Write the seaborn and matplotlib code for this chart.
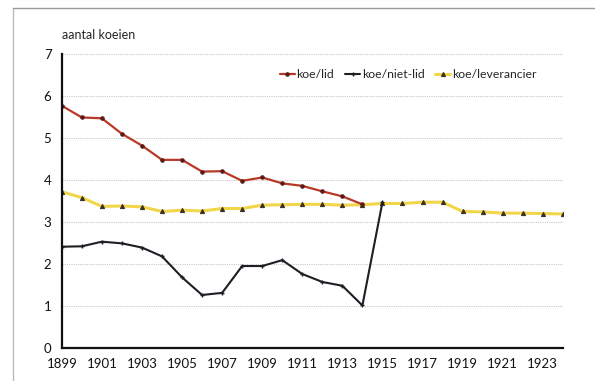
import numpy as np
import pandas as pd
import matplotlib
matplotlib.use("Agg")
import matplotlib.pyplot as plt
import matplotlib.ticker as ticker
import seaborn as sns

jaren = list(range(1899, 1925))
koe_lid = [5.77, 5.49, 5.47, 5.10, 4.82, 4.48, 4.48, 4.20, 4.21, 3.98, 4.06, 3.92, 3.86, 3.73, 3.61, 3.42]
koe_niet_lid = [2.41, 2.42, 2.53, 2.49, 2.39, 2.18, 1.68, 1.26, 1.31, 1.95, 1.95, 2.09, 1.76, 1.57, 1.48, 1.01, 3.47]
koe_leverancier = [3.72, 3.58, 3.37, 3.38, 3.36, 3.25, 3.28, 3.26, 3.32, 3.32, 3.40, 3.41, 3.42, 3.42, 3.40, 3.41,
                   3.44, 3.44, 3.47, 3.47, 3.25, 3.24, 3.21, 3.21, 3.20, 3.19]
tick_jaren = list(range(1899, 1925, 2))

sns.set_style("white")
plt.rcParams['font.family'] = ['Lato', 'DejaVu Sans']

fig = plt.figure(figsize=(6, 3.81), dpi=100)
ax = fig.add_axes([0.103, 0.087, 0.835, 0.771])

# rand van de afbeelding
fig.add_artist(plt.Line2D([0.022, 0.022], [0, 0.98], color="#bbbbbb", lw=1, transform=fig.transFigure))
fig.add_artist(plt.Line2D([0.022, 0.99], [0.98, 0.98], color="#999999", lw=1, transform=fig.transFigure))

sns.lineplot(x=jaren[:len(koe_lid)], y=koe_lid, ax=ax, color="#b83a26", lw=1.6,
             marker="o", markersize=2.5, markerfacecolor="#5a1a1a", markeredgecolor="#5a1a1a",
             label="koe/lid")
sns.lineplot(x=jaren[:len(koe_niet_lid)], y=koe_niet_lid, ax=ax, color="#1e1e24", lw=1.5,
             marker="+", markersize=3, markeredgewidth=1, markeredgecolor="#1e1e24",
             label="koe/niet-lid")
sns.lineplot(x=jaren[:len(koe_leverancier)], y=koe_leverancier, ax=ax, color="#f2d64a", lw=2.2,
             marker="^", markersize=3, markerfacecolor="#3a3020", markeredgecolor="#3a3020",
             label="koe/leverancier", zorder=1)

ax.set_xlim(1899, 1924)
ax.set_ylim(0, 7)
ax.xaxis.set_major_locator(ticker.FixedLocator(tick_jaren))
ax.xaxis.set_minor_locator(ticker.MultipleLocator(1))
ax.yaxis.set_major_locator(ticker.MultipleLocator(1))
ax.yaxis.grid(True, linestyle=(0, (1, 1)), color="#c8c8c8", lw=0.8)
ax.set_axisbelow(True)
for s in ["top", "right"]:
    ax.spines[s].set_visible(False)
for s in ["left", "bottom"]:
    ax.spines[s].set_color("#111111")
    ax.spines[s].set_linewidth(1.6)
ax.tick_params(axis="both", which="both", direction="out", color="#111111", labelsize=9.5, labelcolor="#111111")
ax.tick_params(axis="x", which="both", length=4, width=1.2)
ax.tick_params(axis="y", which="major", length=4, width=1.2)
ax.set_xlabel("")
ax.set_ylabel("")
ax.text(0.0, 1.045, "aantal koeien", transform=ax.transAxes, fontsize=9, ha="left", va="bottom")

leg = ax.legend(loc="upper right", bbox_to_anchor=(0.962, 0.975), ncol=3, frameon=False, fontsize=8.8,
                handlelength=1.2, handletextpad=0.15, columnspacing=0.9, borderaxespad=0.2)

plt.savefig("out.png", dpi=100)
